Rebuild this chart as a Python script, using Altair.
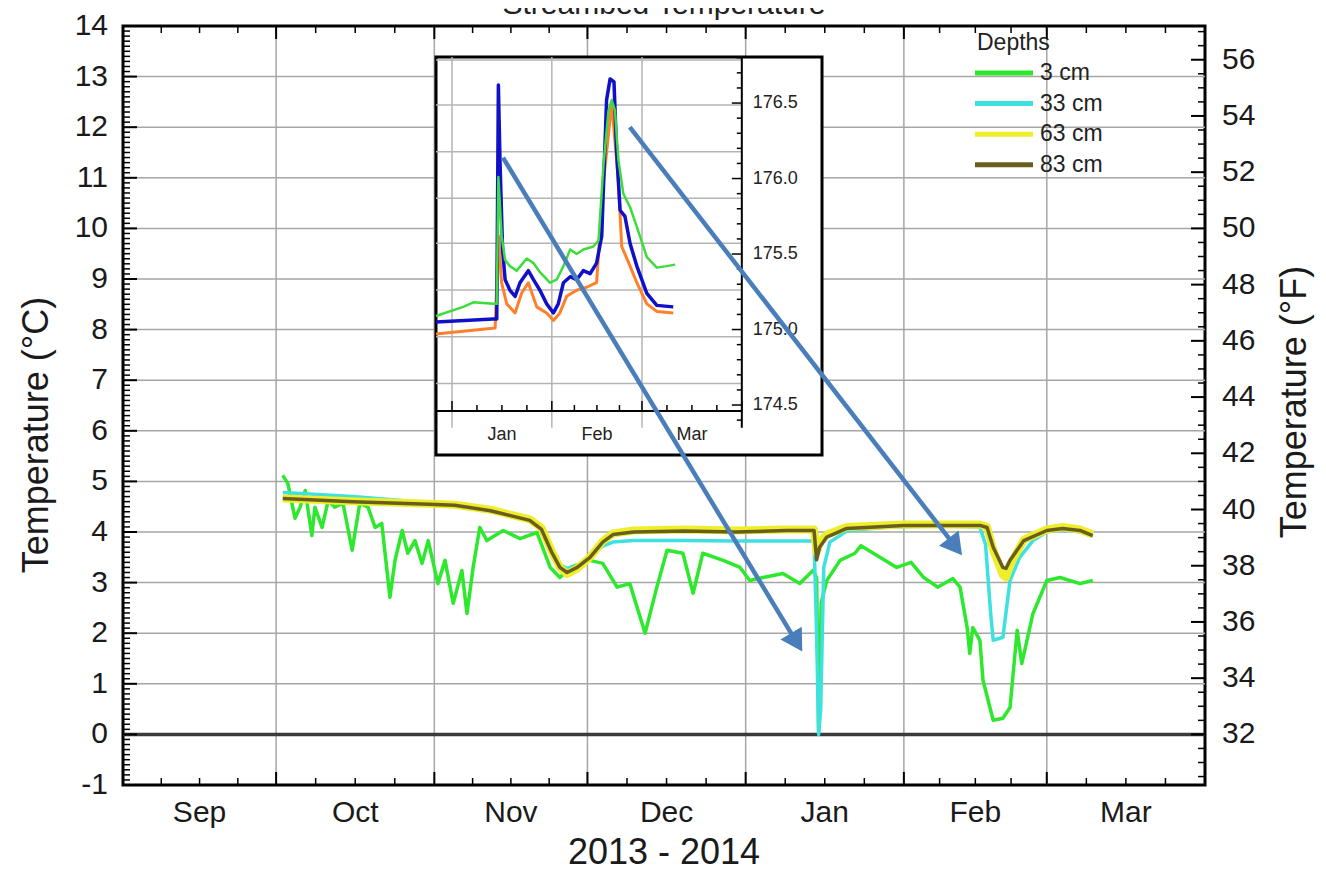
import pandas as pd
import altair as alt

FONT = "Liberation Sans"

# ---------------- main chart: x = days since 2013-09-01, y = temperature (°C) ----------------
g_day = [31.3, 32.3, 33.7, 34.7, 35.7, 37.0, 37.6, 39.0, 40.2, 41.5, 43.1, 44.9, 46.4, 48.0, 49.4,
         50.7, 52.3, 53.3, 54.7, 55.8, 57.2, 58.6, 59.8, 61.7, 63.1, 64.7, 66.4, 67.4, 68.6, 69.9,
         71.3, 74.5, 77.8, 81.1, 83.7, 85.6, 87.6, 91.5, 94.0, 96.8, 99.3, 102.3, 104.6, 106.6,
         109.7, 111.7, 113.6, 117.6, 120.9, 122.8, 125.4, 129.3, 132.6, 135.2, 135.9, 136.3, 136.8,
         137.9, 140.5, 143.4, 144.6, 151.6, 154.4, 156.9, 159.6, 162.6, 164.0, 165.4, 165.9, 166.5,
         167.9, 168.5, 170.5, 172.4, 173.8, 175.2, 176.1, 178.3, 181.0, 183.6, 187.5, 190.0]
g_temp = [5.12, 4.96, 4.27, 4.49, 4.82, 3.93, 4.49, 4.09, 4.62, 4.49, 4.57, 3.64, 4.57, 4.49, 4.09,
          4.17, 2.71, 3.44, 4.03, 3.58, 3.83, 3.38, 3.83, 2.98, 3.44, 2.59, 3.24, 2.39, 3.30, 4.09,
          3.83, 4.03, 3.87, 3.99, 3.30, 3.10, 3.30, 3.44, 3.38, 2.91, 2.98, 2.00, 2.91, 3.64,
          3.58, 2.79, 3.58, 3.44, 3.30, 3.04, 3.10, 3.18, 2.98, 3.24, 3.10, 0.05, 2.60,
          3.04, 3.44, 3.58, 3.73, 3.30, 3.40, 3.10, 2.91, 3.08, 2.91, 2.11, 1.60, 2.11,
          1.86, 1.07, 0.28, 0.32, 0.53, 2.06, 1.40, 2.39, 3.04, 3.10, 2.98, 3.04]

c_day = [31.3, 45, 60, 72, 79.7, 82.0, 84.0, 85.6, 87.0, 89.0, 91.5, 94.0, 96.0, 100, 110, 120, 130,
         135.4, 135.9, 136.3, 136.7, 137.3, 138.5, 141.8, 150, 160, 167.9, 169.0, 170.0, 170.5,
         172.4, 173.8, 175.7, 178.3, 181.0, 184.0, 187.5, 190.0]
c_temp = [4.78, 4.70, 4.58, 4.45, 4.27, 4.05, 3.62, 3.35, 3.28, 3.33, 3.52, 3.72, 3.80, 3.83, 3.83,
          3.82, 3.82, 3.82, 2.00, 0.00, 0.50, 3.30, 3.80, 4.02, 4.10, 4.12, 4.10, 3.75, 2.40, 1.86,
          1.92, 3.04, 3.50, 3.83, 4.00, 4.05, 4.00, 3.92]

y_day = [31.3, 45, 60, 65, 72, 79.7, 82.0, 84.0, 85.6, 87.0, 89.0, 91.5, 94.0, 96.0, 100, 110, 120,
         130, 135.4, 135.9, 136.5, 137.9, 141.8, 153, 167.9, 169.3, 170.5, 172.4, 173.0, 173.8,
         176.5, 181, 184.1, 187.5, 190]
y_temp = [4.66, 4.61, 4.56, 4.54, 4.44, 4.25, 4.08, 3.62, 3.30, 3.17, 3.28, 3.50, 3.82, 3.97, 4.03,
          4.05, 4.03, 4.05, 4.05, 3.60, 3.80, 3.95, 4.10, 4.15, 4.15, 4.10, 3.65, 3.15, 3.10, 3.35,
          3.85, 4.05, 4.10, 4.05, 3.95]

o_day = [31.3, 45, 60, 65, 72, 79.7, 82.0, 84.0, 85.6, 87.0, 89.0, 91.5, 94.0, 96.0, 100, 110, 120,
         130, 135.4, 135.9, 136.5, 137.9, 141.8, 153, 167.9, 169.3, 170.5, 172.4, 173.0, 173.8,
         176.5, 181, 184.1, 187.5, 190]
o_temp = [4.66, 4.60, 4.55, 4.53, 4.42, 4.23, 4.05, 3.60, 3.30, 3.20, 3.30, 3.50, 3.80, 3.95, 4.00,
          4.02, 4.00, 4.03, 4.03, 3.45, 3.70, 3.90, 4.07, 4.13, 4.13, 4.09, 3.70, 3.30, 3.28, 3.44,
          3.83, 4.03, 4.07, 4.03, 3.93]

depth_labels = ["3 cm", "33 cm", "63 cm", "83 cm"]
depth_colors = ["#2ee82e", "#3ee0e0", "#eeee2a", "#6a5e1e"]

month_start = [0, 30, 61, 91, 122, 153, 181, 212]
month_names = ["Sep", "Oct", "Nov", "Dec", "Jan", "Feb", "Mar"]

# ---------------- inset: x = days since 2014-01-01, y = elevation ----------------
io_day = [-4.97, 13.4, 14.4, 15.4, 17.0, 19.6, 21.6, 23.7, 26.3, 29.4, 31.5, 33.5, 35.6, 38.7, 41.8,
          44.9, 47.0, 49.6, 51.7, 52.7, 55.3, 57.4, 60.5, 63.6, 68.7]
io_val = [174.97, 175.01, 175.62, 175.31, 175.17, 175.11, 175.24, 175.31, 175.15, 175.11, 175.06,
          175.11, 175.22, 175.26, 175.28, 175.31, 175.97, 176.50, 175.97, 175.55, 175.42, 175.31,
          175.17, 175.12, 175.11]
ib_day = [-4.97, 12.8, 13.9, 14.4, 14.9, 15.7, 16.5, 18.0, 19.6, 21.1, 23.7, 25.3, 27.3, 29.4, 31.5,
          33.0, 34.6, 36.7, 38.7, 40.8, 42.9, 44.9, 46.5, 48.0, 49.1, 50.3, 51.1, 52.2, 53.7, 55.3,
          57.4, 60.5, 63.6, 68.7]
ib_val = [175.05, 175.07, 175.07, 176.62, 176.12, 175.53, 175.33, 175.26, 175.22, 175.31, 175.39,
          175.33, 175.26, 175.17, 175.11, 175.17, 175.31, 175.35, 175.33, 175.39, 175.37, 175.44,
          175.62, 176.52, 176.66, 176.64, 176.19, 175.79, 175.75, 175.57, 175.42, 175.24, 175.16,
          175.15]
ig_day = [-4.97, 3.5, 6.6, 12.8, 13.9, 14.4, 15.4, 16.5, 18.0, 20.1, 23.2, 25.3, 27.3, 30.4, 32.5,
          34.6, 36.7, 38.7, 40.8, 43.9, 45.5, 47.0, 48.6, 49.6, 50.6, 51.7, 53.2, 55.3, 57.4, 60.5,
          63.6, 66.7, 69.3]
ig_val = [175.09, 175.15, 175.18, 175.17, 175.17, 176.01, 175.62, 175.46, 175.42, 175.39, 175.47,
          175.44, 175.38, 175.31, 175.33, 175.42, 175.53, 175.50, 175.53, 175.55, 175.59, 176.08,
          176.45, 176.52, 176.45, 176.12, 175.90, 175.81, 175.68, 175.48, 175.41, 175.42, 175.43]

inset_month_start = [0, 31, 59, 90]
inset_month_names = ["Jan", "Feb", "Mar"]
inset_grid_vals = [174.643, 174.953, 175.262, 175.571, 175.869, 176.178, 176.487, 176.785]
inset_label_vals = [174.5, 175.0, 175.5, 176.0, 176.5]
inset_x_dom = [-4.97, 114.9]
inset_y_dom = [174.169, 176.805]
inset_axis_y = 174.46
inset_axis_low = 174.35

# arrows (main chart coordinates: day, °C)
arrow_x0 = [74.45, 99.3]
arrow_y0 = [11.40, 12.0]
arrow_x1 = [132.0, 163.1]
arrow_y1 = [1.82, 3.71]
arrow_angle = [148.8, 142.2]

# ---------------- layout ----------------
W, H = 1082, 759
GRID = "#a6a6a6"
TXT = "#1a1a1a"

month_mid = [(a + b) / 2 for a, b in zip(month_start[:-1], month_start[1:])]
month_quarter = [s + k * (e - s) / 4 for s, e in zip(month_start[:-1], month_start[1:]) for k in (1, 2, 3)]
c_major = list(range(-1, 15))
c_minor = [v / 10 for v in range(-10, 141) if v % 10 != 0]
f_major = list(range(32, 57, 2))
f_minor = [v / 2 for v in range(61, 115) if v % 4 != 0]

xsc = alt.Scale(domain=[0, 212], nice=False, zero=False)
ysc = alt.Scale(domain=[-1, 14], nice=False, zero=False)
fsc = alt.Scale(domain=[32 - 1.8, 32 + 1.8 * 14], nice=False, zero=False)


def MX(f):
    return alt.X(f, scale=xsc, axis=None)


def MY(f):
    return alt.Y(f, scale=ysc, axis=None)


one = pd.DataFrame({"a": [0]})

hgrid = alt.Chart(pd.DataFrame({"t": c_major[1:-1]})).mark_rule(color=GRID, strokeWidth=1.5).encode(
    y=MY("t:Q"), x=alt.value(0), x2=alt.value(W))
vgrid = alt.Chart(pd.DataFrame({"d": month_start[1:-1]})).mark_rule(color=GRID, strokeWidth=1.5).encode(
    x=MX("d:Q"), y=alt.value(0), y2=alt.value(H))
zero = alt.Chart(pd.DataFrame({"t": [0]})).mark_rule(color="#3a3a3a", strokeWidth=3.5).encode(
    y=MY("t:Q"), x=alt.value(0), x2=alt.value(W))


def main_line(days, temps, color, width):
    return alt.Chart(pd.DataFrame({"day": days, "temp": temps})).mark_line(
        color=color, strokeWidth=width, strokeJoin="round").encode(x=MX("day:Q"), y=MY("temp:Q"))


lines = [
    main_line(g_day, g_temp, depth_colors[0], 3.5),
    main_line(c_day, c_temp, depth_colors[1], 3.5),
    main_line(y_day, y_temp, depth_colors[2], 8),
    main_line(o_day, o_temp, depth_colors[3], 3.5),
]


def hticks(vals, length, width):
    return alt.Chart(pd.DataFrame({"t": vals})).mark_rule(color="black", strokeWidth=width).encode(
        y=MY("t:Q"), x=alt.value(0), x2=alt.value(length))


def vticks(vals, y0, y1, width):
    return alt.Chart(pd.DataFrame({"d": vals})).mark_rule(color="black", strokeWidth=width).encode(
        x=MX("d:Q"), y=alt.value(y0), y2=alt.value(y1))


ticks = [
    hticks(c_major, 14, 2), hticks(c_minor, 7, 1.5),
    vticks(month_start, H, H - 13, 2), vticks(month_quarter, H, H - 7, 1.5),
    vticks(month_start, 0, 13, 2), vticks(month_quarter, 0, 7, 1.5),
]

# axis labels and titles (text through the scales)
left_labels = alt.Chart(pd.DataFrame({"t": c_major, "lab": [str(v) for v in c_major]})).mark_text(
    align="right", baseline="middle", fontSize=30, color=TXT).encode(
    y=MY("t:Q"), x=alt.value(-15), text="lab:N")
x_labels = alt.Chart(pd.DataFrame({"d": month_mid, "lab": month_names})).mark_text(
    align="center", baseline="alphabetic", fontSize=30, color=TXT).encode(
    x=MX("d:Q"), y=alt.value(H + 37), text="lab:N")
x_title = alt.Chart(one).mark_text(text="2013 - 2014", fontSize=36, align="center",
                                   baseline="alphabetic", color=TXT).encode(
    x=alt.value(W / 2), y=alt.value(H + 79))
y_title = alt.Chart(one).mark_text(text="Temperature (°C)", fontSize=36, angle=270, align="center",
                                   baseline="alphabetic", color=TXT).encode(
    x=alt.value(-75), y=alt.value(409))
title = alt.Chart(one).mark_text(text="Streambed Temperature", fontSize=30, align="center",
                                 baseline="alphabetic", color="#222").encode(
    x=alt.value(W / 2), y=alt.value(-12))

legend = [alt.Chart(one).mark_text(text="Depths", fontSize=23, align="left", baseline="alphabetic",
                                   color="#222").encode(x=alt.value(854), y=alt.value(24))]
for i, (lab, col) in enumerate(zip(depth_labels, depth_colors)):
    yy = 47 + 30.6 * i
    legend.append(alt.Chart(one).mark_rule(color=col, strokeWidth=5).encode(
        x=alt.value(852), x2=alt.value(910), y=alt.value(yy)))
    legend.append(alt.Chart(one).mark_text(text=lab, fontSize=23, align="left", baseline="middle",
                                           color="#222").encode(x=alt.value(917), y=alt.value(yy)))

main = alt.layer(hgrid, vgrid, zero, *lines, *ticks, left_labels, x_labels, x_title, y_title,
                 *legend, title)

# right (°F) axis
f_major_rule = alt.Chart(pd.DataFrame({"f": f_major})).mark_rule(color="black", strokeWidth=2).encode(
    y=alt.Y("f:Q", scale=fsc, axis=None), x=alt.value(W), x2=alt.value(W - 14))
f_minor_rule = alt.Chart(pd.DataFrame({"f": f_minor})).mark_rule(color="black", strokeWidth=1.5).encode(
    y=alt.Y("f:Q", scale=fsc, axis=None), x=alt.value(W), x2=alt.value(W - 7))
f_labels = alt.Chart(pd.DataFrame({"f": f_major, "lab": [str(v) for v in f_major]})).mark_text(
    align="left", baseline="middle", fontSize=30, color=TXT).encode(
    y=alt.Y("f:Q", scale=fsc, axis=None), x=alt.value(W + 17), text="lab:N")
f_title = alt.Chart(one).mark_text(text="Temperature (°F)", fontSize=36, angle=270, align="center",
                                   baseline="alphabetic", color=TXT).encode(
    x=alt.value(W + 101), y=alt.value(376))
f_layer = alt.layer(f_major_rule, f_minor_rule, f_labels, f_title)

# ---------------- inset ----------------
ixs = alt.Scale(domain=inset_x_dom, range=[313, 699], nice=False, zero=False)
iys = alt.Scale(domain=inset_y_dom, range=[429, 31], nice=False, zero=False)


def IX(f):
    return alt.X(f, scale=ixs, axis=None)


def IY(f):
    return alt.Y(f, scale=iys, axis=None)


frame = alt.Chart(pd.DataFrame({"x0": [inset_x_dom[0]], "x1": [inset_x_dom[1]],
                                "y0": [inset_y_dom[0]], "y1": [inset_y_dom[1]]})).mark_rect(
    fill="white", stroke="black", strokeWidth=3).encode(
    x=IX("x0:Q"), x2="x1:Q", y=IY("y1:Q"), y2="y0:Q")
igrid_h = alt.Chart(pd.DataFrame({"v": inset_grid_vals, "a": inset_x_dom[0], "b": inset_month_start[-1]})).mark_rule(
    color="#b4b4b4", strokeWidth=1.5).encode(x=IX("a:Q"), x2="b:Q", y=IY("v:Q"))
igrid_v = alt.Chart(pd.DataFrame({"d": inset_month_start[:-1], "a": inset_axis_low, "b": inset_y_dom[1]})).mark_rule(
    color="#b4b4b4", strokeWidth=1.5).encode(x=IX("d:Q"), y=IY("a:Q"), y2="b:Q")
iaxis_b = alt.Chart(pd.DataFrame({"x0": [inset_x_dom[0]], "x1": [inset_month_start[-1]], "v": [inset_axis_y]})).mark_rule(
    color="black", strokeWidth=2).encode(x=IX("x0:Q"), x2="x1:Q", y=IY("v:Q"))
iaxis_r = alt.Chart(pd.DataFrame({"d": [inset_month_start[-1]], "a": [inset_axis_low], "b": [inset_y_dom[1]]})).mark_rule(
    color="black", strokeWidth=2).encode(x=IX("d:Q"), y=IY("a:Q"), y2="b:Q")

inset_quarter = [s + k * (e - s) / 4 for s, e in zip(inset_month_start[:-1], inset_month_start[1:]) for k in (1, 2, 3)]
ix_major = alt.Chart(pd.DataFrame({"d": inset_month_start, "b": inset_axis_y})).mark_rule(
    color="black", strokeWidth=1.5, y2Offset=-10).encode(x=IX("d:Q"), y=IY("b:Q"), y2="b:Q")
ix_minor = alt.Chart(pd.DataFrame({"d": inset_quarter, "b": inset_axis_y})).mark_rule(
    color="black", strokeWidth=1.5, y2Offset=-6).encode(x=IX("d:Q"), y=IY("b:Q"), y2="b:Q")
iy_vals = [round(174.4 + 0.1 * k, 1) for k in range(25)]
iy_major = alt.Chart(pd.DataFrame({"v": [v for v in iy_vals if round(v * 10) % 5 == 0], "a": 90})).mark_rule(
    color="black", strokeWidth=1.5, x2Offset=-10).encode(x=IX("a:Q"), x2="a:Q", y=IY("v:Q"))
iy_minor = alt.Chart(pd.DataFrame({"v": [v for v in iy_vals if round(v * 10) % 5 != 0], "a": 90})).mark_rule(
    color="black", strokeWidth=1.5, x2Offset=-5).encode(x=IX("a:Q"), x2="a:Q", y=IY("v:Q"))
ilab_y = alt.Chart(pd.DataFrame({"v": inset_label_vals, "lab": [f"{v:.1f}" for v in inset_label_vals], "a": 90})).mark_text(
    align="left", baseline="middle", dx=11, fontSize=18, color="#222").encode(
    x=IX("a:Q"), y=IY("v:Q"), text="lab:N")
inset_mid = [(a + b) / 2 for a, b in zip(inset_month_start[:-1], inset_month_start[1:])]
ilab_x = alt.Chart(pd.DataFrame({"d": inset_mid, "lab": inset_month_names, "b": inset_axis_y})).mark_text(
    align="center", baseline="alphabetic", dy=29, fontSize=18, color="#222").encode(
    x=IX("d:Q"), y=IY("b:Q"), text="lab:N")


def inset_line(days, vals, color, width):
    return alt.Chart(pd.DataFrame({"d": days, "v": vals})).mark_line(
        color=color, strokeWidth=width, strokeJoin="round").encode(x=IX("d:Q"), y=IY("v:Q"))


inset = alt.layer(frame, igrid_h, igrid_v, iaxis_b, iaxis_r, ix_major, ix_minor, iy_major, iy_minor,
                  ilab_y, ilab_x,
                  inset_line(io_day, io_val, "#ff7f2a", 3),
                  inset_line(ib_day, ib_val, "#1010c8", 3.5),
                  inset_line(ig_day, ig_val, "#3ddc3d", 2.5))

# ---------------- arrows ----------------
axs = alt.Scale(domain=[0, 212], nice=False, zero=False)
ays = alt.Scale(domain=[-1, 14], nice=False, zero=False)
arrow_df = pd.DataFrame({"x0": arrow_x0, "y0": arrow_y0, "x1": arrow_x1, "y1": arrow_y1, "ang": arrow_angle})
ARROW = "#4a7ebb"
arrow_lines = alt.Chart(arrow_df).mark_rule(color=ARROW, strokeWidth=4.5).encode(
    x=alt.X("x0:Q", scale=axs, axis=None), y=alt.Y("y0:Q", scale=ays, axis=None), x2="x1:Q", y2="y1:Q")
arrow_heads = alt.Chart(arrow_df).mark_point(shape="triangle-up", filled=True, size=620, opacity=1,
                                             color=ARROW).encode(
    x=alt.X("x1:Q", scale=axs, axis=None), y=alt.Y("y1:Q", scale=ays, axis=None),
    angle=alt.Angle("ang:Q", scale=None))
arrows = alt.layer(arrow_lines, arrow_heads)

chart = alt.layer(main, f_layer, inset, arrows).resolve_scale(
    x="independent", y="independent"
).properties(
    width=W, height=H,
    padding={"left": 115, "top": 18, "right": 113, "bottom": 88},
    autosize=alt.AutoSizeParams(type="none"),
    background="white",
).configure_view(
    stroke="black", strokeWidth=3
).configure_text(font=FONT)

chart.save("out.html", embed_options={"renderer": "svg", "actions": False})
